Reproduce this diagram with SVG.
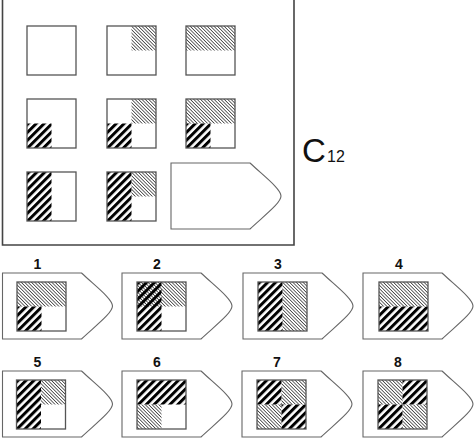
<svg xmlns="http://www.w3.org/2000/svg" xmlns:xlink="http://www.w3.org/1999/xlink" width="474" height="439" viewBox="0 0 474 439">
<style>
.frame{fill:none;stroke:#444;stroke-width:1.6}
.sq{fill:none;stroke:#555;stroke-width:1.3}
.bg{fill:#fff}
.pent{fill:#fff;stroke:#666;stroke-width:1.1}
.th{fill:url(#thick)}
.fn{fill:url(#fine)}
.lbl{font-family:"Liberation Sans",Arial,sans-serif;font-weight:bold;font-size:14px;fill:#111;text-anchor:middle}
.big{font-family:"Liberation Sans",Arial,sans-serif;fill:#111}
</style>
<defs>
<pattern id="thick" width="5.6" height="5.6" patternUnits="userSpaceOnUse" patternTransform="rotate(45)"><rect width="3" height="5.6" fill="#000"/></pattern>
<pattern id="fine" width="2.4" height="2.4" patternUnits="userSpaceOnUse" patternTransform="rotate(-45)"><rect width="0.8" height="2.4" fill="#444"/></pattern>
<path id="pentShape" d="M0,0 H79 C94,14 110,26 110,33 C110,40 94,52 79,66 H0 Z"/>
</defs>
<rect width="474" height="439" fill="#fff"/>
<path class="frame" d="M2.5,-1 V245 H294 V-1"/>
<g id="m11" transform="translate(27,26)"><rect class="bg" width="49" height="49"/><rect class="sq" width="49" height="49"/></g>
<g id="m12" transform="translate(107,26)"><rect class="bg" width="49" height="49"/><rect class="fn" x="24.5" width="24.5" height="24.5"/><rect class="sq" width="49" height="49"/></g>
<g id="m13" transform="translate(186,26)"><rect class="bg" width="49" height="49"/><rect class="fn" width="49" height="24.5"/><rect class="sq" width="49" height="49"/></g>
<g id="m21" transform="translate(27,99)"><rect class="bg" width="49" height="49"/><rect class="th" y="24.5" width="24.5" height="24.5"/><rect class="sq" width="49" height="49"/></g>
<g id="m22" transform="translate(107,99)"><rect class="bg" width="49" height="49"/><rect class="fn" x="24.5" width="24.5" height="24.5"/><rect class="th" y="24.5" width="24.5" height="24.5"/><rect class="sq" width="49" height="49"/></g>
<g id="m23" transform="translate(186,99)"><rect class="bg" width="49" height="49"/><rect class="fn" width="49" height="24.5"/><rect class="th" y="24.5" width="24.5" height="24.5"/><rect class="sq" width="49" height="49"/></g>
<g id="m31" transform="translate(27,172)"><rect class="bg" width="49" height="49"/><rect class="th" width="24.5" height="49"/><rect class="sq" width="49" height="49"/></g>
<g id="m32" transform="translate(107,172)"><rect class="bg" width="49" height="49"/><rect class="th" width="24.5" height="49"/><rect class="fn" x="24.5" width="24.5" height="24.5"/><rect class="sq" width="49" height="49"/></g>
<g id="answer" transform="translate(171,163)"><use href="#pentShape" class="pent"/></g>
<g id="title"><text class="big" x="302" y="162" font-size="33">C</text><text class="big" x="327" y="162" font-size="16">12</text></g>
<g id="opt1" transform="translate(2.5,273)"><use href="#pentShape" class="pent"/><text class="lbl" x="35" y="-4">1</text><g transform="translate(14.5,9)"><rect class="fn" width="49" height="24.5"/><rect class="th" y="24.5" width="24.5" height="24.5"/><rect class="sq" width="49" height="49"/></g></g>
<g id="opt2" transform="translate(122,273)"><use href="#pentShape" class="pent"/><text class="lbl" x="35" y="-4">2</text><g transform="translate(15,9)"><rect class="fn" width="49" height="24.5"/><rect class="th" width="24.5" height="49"/><rect class="sq" width="49" height="49"/></g></g>
<g id="opt3" transform="translate(243,273)"><use href="#pentShape" class="pent"/><text class="lbl" x="35" y="-4">3</text><g transform="translate(15,9)"><rect class="th" width="24.5" height="49"/><rect class="fn" x="24.5" width="24.5" height="49"/><rect class="sq" width="49" height="49"/></g></g>
<g id="opt4" transform="translate(363,273)"><use href="#pentShape" class="pent"/><text class="lbl" x="36" y="-4">4</text><g transform="translate(16,9)"><rect class="fn" width="49" height="24.5"/><rect class="th" y="24.5" width="49" height="24.5"/><rect class="sq" width="49" height="49"/></g></g>
<g id="opt5" transform="translate(2.5,371)"><use href="#pentShape" class="pent"/><text class="lbl" x="35" y="-4">5</text><g transform="translate(14,9)"><rect class="th" width="24.5" height="49"/><rect class="fn" x="24.5" width="24.5" height="24.5"/><rect class="sq" width="49" height="49"/></g></g>
<g id="opt6" transform="translate(122,371)"><use href="#pentShape" class="pent"/><text class="lbl" x="35" y="-4">6</text><g transform="translate(15,9)"><rect class="th" width="49" height="24.5"/><rect class="fn" y="24.5" width="24.5" height="24.5"/><rect class="sq" width="49" height="49"/></g></g>
<g id="opt7" transform="translate(242,371)"><use href="#pentShape" class="pent"/><text class="lbl" x="35" y="-4">7</text><g transform="translate(15,9)"><rect class="th" width="24.5" height="24.5"/><rect class="fn" x="24.5" width="24.5" height="24.5"/><rect class="fn" y="24.5" width="24.5" height="24.5"/><rect class="th" x="24.5" y="24.5" width="24.5" height="24.5"/><rect class="sq" width="49" height="49"/></g></g>
<g id="opt8" transform="translate(363,371)"><use href="#pentShape" class="pent"/><text class="lbl" x="35" y="-4">8</text><g transform="translate(15,9)"><rect class="fn" width="24.5" height="24.5"/><rect class="th" x="24.5" width="24.5" height="24.5"/><rect class="th" y="24.5" width="24.5" height="24.5"/><rect class="fn" x="24.5" y="24.5" width="24.5" height="24.5"/><rect class="sq" width="49" height="49"/></g></g>
</svg>
